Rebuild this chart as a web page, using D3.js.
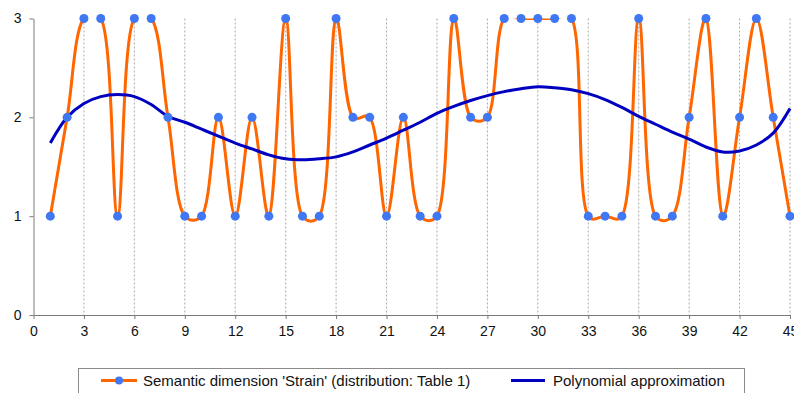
<!DOCTYPE html>
<html>
<head>
<meta charset="utf-8">
<script src="https://cdn.jsdelivr.net/npm/d3@7"></script>
<style>
  body { margin: 0; background: #fff; }
  svg text { font-family: "Liberation Sans", Arial, sans-serif; fill: #111; }
</style>
</head>
<body>
<svg id="chart" width="794" height="393"></svg>
<script>
// positions 1..45
var positions = d3.range(1, 46);

// semantic dimension 'Strain' (distribution: Table 1)
var strainValues = [1, 2, 3, 3, 1, 3, 3, 2, 1, 1,
                    2, 1, 2, 1, 3, 1, 1, 3, 2, 2,
                    1, 2, 1, 1, 3, 2, 2, 3, 3, 3,
                    3, 3, 1, 1, 1, 3, 1, 1, 2, 3,
                    1, 2, 3, 2, 1];

// polynomial approximation
var polyValues = [1.74, 2.00, 2.14, 2.21, 2.23, 2.21, 2.13, 2.01, 1.95, 1.88,
                  1.81, 1.74, 1.68, 1.62, 1.58, 1.57, 1.58, 1.60, 1.65, 1.72,
                  1.79, 1.87, 1.95, 2.04, 2.11, 2.17, 2.22, 2.26, 2.29, 2.31,
                  2.30, 2.28, 2.24, 2.18, 2.10, 2.01, 1.93, 1.85, 1.78, 1.70,
                  1.65, 1.66, 1.72, 1.84, 2.09];

var xTicks = d3.range(0, 46, 3);
var yTicks = [0, 1, 2, 3];

var seriesNames = ["Semantic dimension 'Strain' (distribution: Table 1)", "Polynomial approximation"];

var svg = d3.select('#chart');

var x = d3.scaleLinear().domain([0, 45]).range([33.5, 790]);
var y = d3.scaleLinear().domain([0, 3]).range([315, 18.5]);

// clip to plot area (curve overshoot above 3 gets cut like in the original)
svg.append('clipPath').attr('id', 'plotclip')
  .append('rect')
  .attr('x', x(0)).attr('y', y(3))
  .attr('width', x(45) - x(0) + 6).attr('height', y(0) - y(3));

// vertical dashed gridlines
svg.append('g').selectAll('line').data(xTicks.filter(function(d) { return d > 0; }))
  .enter().append('line')
  .attr('x1', function(d) { return x(d); })
  .attr('x2', function(d) { return x(d); })
  .attr('y1', y(3))
  .attr('y2', y(0))
  .attr('stroke', '#a8a8a8')
  .attr('stroke-width', 1)
  .attr('stroke-dasharray', '2,2');

// axes
var xAxis = svg.append('g')
  .attr('transform', 'translate(0,' + y(0) + ')')
  .call(d3.axisBottom(x).tickValues(xTicks).tickFormat(d3.format('d'))
    .tickSize(4).tickSizeOuter(0).tickPadding(7));

var yAxis = svg.append('g')
  .attr('transform', 'translate(' + x(0) + ',0)')
  .call(d3.axisLeft(y).tickValues(yTicks).tickFormat(d3.format('d'))
    .tickSize(4).tickSizeOuter(0).tickPadding(8));

[xAxis, yAxis].forEach(function(a) {
  a.select('.domain').attr('stroke', '#7a7a7a');
  a.selectAll('.tick line').attr('stroke', '#7a7a7a');
  a.selectAll('.tick text').attr('fill', '#111')
    .style('font-family', '"Liberation Sans", Arial, sans-serif').style('font-size', '14px');
});

var strainData = positions.map(function(p, i) { return {x: p, y: strainValues[i]}; });
var polyData = positions.map(function(p, i) { return {x: p, y: polyValues[i]}; });

var strainLine = d3.line()
  .x(function(d) { return x(d.x); })
  .y(function(d) { return y(d.y); })
  .curve(d3.curveCatmullRom.alpha(0.4));

var polyLine = d3.line()
  .x(function(d) { return x(d.x); })
  .y(function(d) { return y(d.y); })
  .curve(d3.curveCatmullRom);

svg.append('path').datum(strainData)
  .attr('clip-path', 'url(#plotclip)')
  .attr('d', strainLine)
  .attr('fill', 'none')
  .attr('stroke', '#ff6600')
  .attr('stroke-width', 3);

svg.append('path').datum(polyData)
  .attr('d', polyLine)
  .attr('fill', 'none')
  .attr('stroke', '#0000c0')
  .attr('stroke-width', 3);

svg.append('g').selectAll('circle').data(strainData)
  .enter().append('circle')
  .attr('cx', function(d) { return x(d.x); })
  .attr('cy', function(d) { return y(d.y); })
  .attr('r', 4.5)
  .attr('fill', '#3f78f2');

// legend
var legend = svg.append('g');
legend.append('rect')
  .attr('x', 78.5).attr('y', 368.5)
  .attr('width', 666).attr('height', 40)
  .attr('fill', '#fff')
  .attr('stroke', '#8a8a8a');

var ly = 380.5;
legend.append('line')
  .attr('x1', 101).attr('x2', 137).attr('y1', ly).attr('y2', ly)
  .attr('stroke', '#ff6600').attr('stroke-width', 3);
legend.append('circle')
  .attr('cx', 119).attr('cy', ly).attr('r', 4)
  .attr('fill', '#3f78f2');
legend.append('text')
  .attr('x', 143).attr('y', ly).attr('dy', '0.35em')
  .style('font-size', '15px')
  .text(seriesNames[0]);

legend.append('line')
  .attr('x1', 511).attr('x2', 545).attr('y1', ly).attr('y2', ly)
  .attr('stroke', '#0000c0').attr('stroke-width', 3);
legend.append('text')
  .attr('x', 553).attr('y', ly).attr('dy', '0.35em')
  .style('font-size', '15px')
  .text(seriesNames[1]);
</script>
</body>
</html>
